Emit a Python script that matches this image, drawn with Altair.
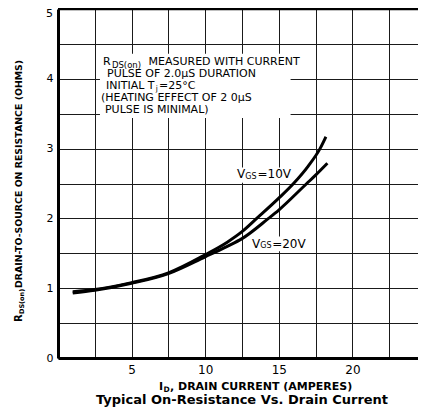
import altair as alt
import pandas as pd

# ---------------- data ----------------
ID_10V = [1.0, 2.5, 5.0, 7.5, 10.0, 11.5, 12.5, 13.5, 15.0, 16.0, 17.0, 17.8, 18.2]
RDS_10V = [0.95, 0.98, 1.08, 1.22, 1.48, 1.66, 1.81, 2.0, 2.29, 2.5, 2.75, 3.0, 3.17]
ID_20V = [1.0, 2.5, 5.0, 7.5, 10.0, 11.5, 12.5, 14.3, 15.0, 16.9, 17.5, 18.3]
RDS_20V = [0.93, 0.97, 1.07, 1.21, 1.45, 1.60, 1.71, 2.0, 2.12, 2.5, 2.62, 2.79]

X_GRID = [0, 2.5, 5, 7.5, 10, 12.5, 15, 17.5, 20, 22.5, 25]
Y_GRID = [0, 0.5, 1, 1.5, 2, 2.5, 3, 3.5, 4, 4.5, 5]
Y_TOP = [5]

NOTE_LINES = ["MEASURED WITH CURRENT", "PULSE OF 2.0\u03bcS DURATION", "INITIAL T",
              "(HEATING EFFECT OF 2 0\u03bcS", "PULSE IS MINIMAL)"]

TITLE = "Typical On-Resistance Vs. Drain Current"
X_TITLE = ", DRAIN CURRENT (AMPERES)"
Y_TITLE = " DRAIN-TO-SOURCE ON RESISTANCE (OHMS)"

curves = pd.concat([
    pd.DataFrame({"id": ID_10V, "r": RDS_10V, "s": "10V"}),
    pd.DataFrame({"id": ID_20V, "r": RDS_20V, "s": "20V"}),
])

# the reference frame is cut by the page's right edge at I_D = 25;
# the visible part of the x range is 0 .. 25*360/368
xs = alt.Scale(domain=[0, 25 * 360 / 368], nice=False, zero=False)
ys = alt.Scale(domain=[0, 5], nice=False, zero=False)

FONT = "DejaVu Sans"

x_axis = alt.Axis(values=X_GRID, grid=True, gridColor="#1a1a1a", gridWidth=1,
                  domainColor="black", domainWidth=3, ticks=False,
                  labelExpr="(datum.value % 5 === 0 && datum.value > 0) ? format(datum.value, 'd') : ''",
                  labelFont=FONT, labelFontSize=12, labelColor="black",
                  labelPadding=6, labelOverlap=False, labelFlush=False, title=None)
y_axis = alt.Axis(values=Y_GRID, grid=True, gridColor="#1a1a1a", gridWidth=1,
                  domainColor="black", domainWidth=3, ticks=False,
                  labelExpr="(datum.value % 1 === 0 && datum.value < 5) ? format(datum.value, 'd') : ''",
                  labelFont=FONT, labelFontSize=11, labelColor="black",
                  labelPadding=5, labelOverlap=False, labelFlush=False, title=None)


def X(field):
    return alt.X(field, scale=xs, axis=x_axis)


def Y(field):
    return alt.Y(field, scale=ys, axis=y_axis)


lines = alt.Chart(curves).mark_line(strokeWidth=3, interpolate="monotone").encode(
    x=X("id:Q"),
    y=Y("r:Q"),
    color=alt.Color("s:N", scale=alt.Scale(range=["black", "black"]), legend=None),
    detail="s:N",
)

top_border = alt.Chart(pd.DataFrame({"y": Y_TOP})).mark_rule(
    color="black", strokeWidth=2.5).encode(y=Y("y:Q"))

# white boxes behind the annotations (data units)
boxes = pd.DataFrame({
    "x1": [2.85, 11.95, 13.0],
    "x2": [15.8, 16.5, 16.9],
    "y1": [3.44, 2.51, 1.53],
    "y2": [4.36, 2.73, 1.74],
})
box_layer = alt.Chart(boxes).mark_rect(color="white").encode(
    x=X("x1:Q"), x2="x2:Q", y=Y("y1:Q"), y2="y2:Q",
)


def dtext(text, x, y, size, weight="normal"):
    df = pd.DataFrame({"x": [x], "y": [y], "t": [text]})
    return alt.Chart(df).mark_text(align="left", baseline="middle", font=FONT,
                                   fontSize=size, fontWeight=weight, color="black").encode(
        x=X("x:Q"), y=Y("y:Q"), text="t:N",
    )


def ptext(text, x, y, size, weight="bold", angle=0, align="left", baseline="middle"):
    df = pd.DataFrame({"t": [text]})
    return alt.Chart(df).mark_text(align=align, baseline=baseline, font=FONT,
                                   fontSize=size, fontWeight=weight, angle=angle,
                                   color="black").encode(
        x=alt.value(x), y=alt.value(y), text="t:N")


notes = [
    dtext("R", 3.06, 4.24, 11),
    dtext("DS(on)", 3.66, 4.20, 8.5),
    dtext(NOTE_LINES[0], 6.15, 4.24, 11),
    dtext(NOTE_LINES[1], 3.33, 4.07, 11),
    dtext(NOTE_LINES[2], 3.26, 3.90, 11),
    dtext("j", 6.64, 3.86, 7.5),
    dtext("=25\u00b0C", 6.86, 3.90, 11),
    dtext(NOTE_LINES[3], 2.92, 3.73, 11),
    dtext(NOTE_LINES[4], 3.19, 3.56, 11),
    dtext("V", 12.16, 2.63, 12),
    dtext("GS", 12.72, 2.59, 8),
    dtext("=10V", 13.55, 2.63, 12),
    dtext("V", 13.18, 1.64, 12),
    dtext("GS", 13.74, 1.60, 8),
    dtext("=20V", 14.55, 1.64, 12),
]

outside = [
    # top y tick label, nudged below the frame line like the reference
    ptext("5", -5, 5, 11, weight="normal", align="right"),
    ptext("R", -36, 313, 10, angle=270, baseline="alphabetic"),
    ptext("DS(on)", -34, 305, 6.5, angle=270, baseline="alphabetic"),
    ptext(Y_TITLE, -36, 279, 9.4, angle=270, baseline="alphabetic"),
    ptext("I", 101, 378, 11),
    ptext("D", 105.5, 380.5, 7.5),
    ptext(X_TITLE, 112, 378, 11),
    ptext(TITLE, 184, 391, 13, align="center"),
]

chart = alt.layer(box_layer, top_border, lines, *notes, *outside).properties(
    width=360, height=349,
    autosize=alt.AutoSizeParams(type="none"),
    padding={"left": 50, "top": 1, "right": 0, "bottom": 50},
).configure_view(strokeWidth=0)

chart.save("out.html", embed_options={"renderer": "svg", "actions": False})
